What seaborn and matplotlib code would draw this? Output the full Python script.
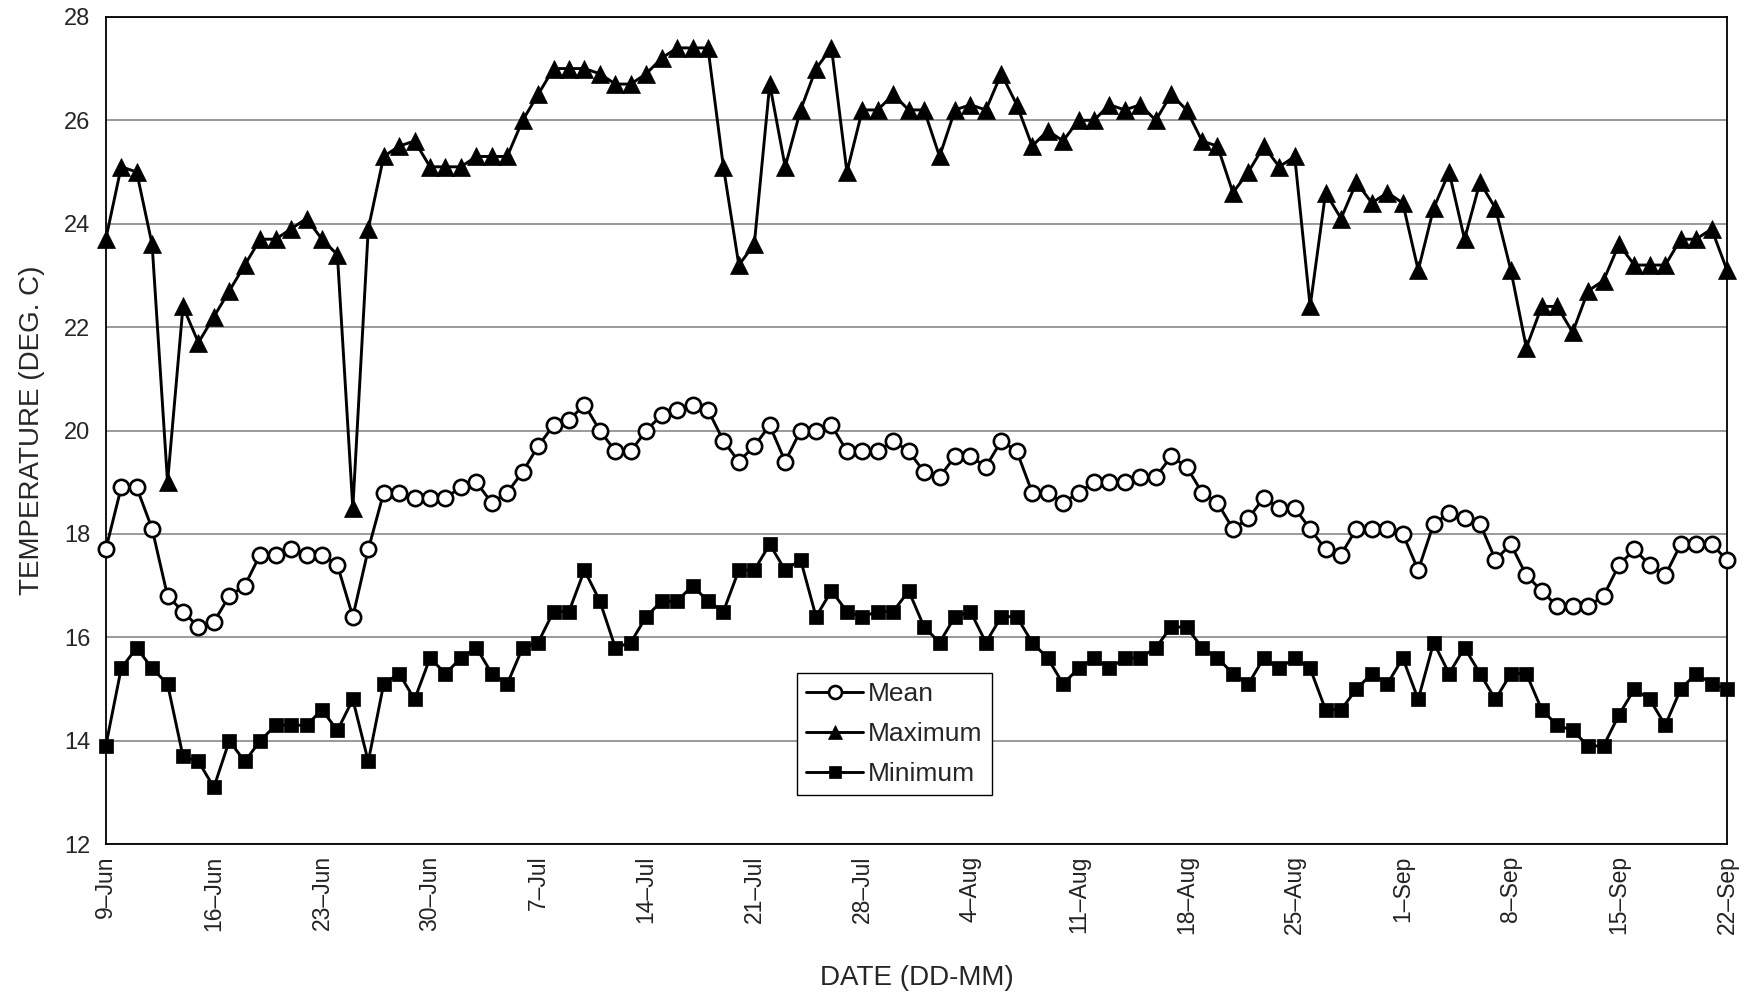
import numpy as np
import pandas as pd
import matplotlib
matplotlib.use("Agg")
import matplotlib.pyplot as plt
import seaborn as sns

# ---------------- data (daily values, 9-Jun .. 22-Sep) ----------------
start_date = "2000-06-09"
n_days = 106

mean_temp = [
    17.7, 18.9, 18.9, 18.1, 16.8, 16.5, 16.2, 16.3, 16.8, 17.0,
    17.6, 17.6, 17.7, 17.6, 17.6, 17.4, 16.4, 17.7, 18.8, 18.8,
    18.7, 18.7, 18.7, 18.9, 19.0, 18.6, 18.8, 19.2, 19.7, 20.1,
    20.2, 20.5, 20.0, 19.6, 19.6, 20.0, 20.3, 20.4, 20.5, 20.4,
    19.8, 19.4, 19.7, 20.1, 19.4, 20.0, 20.0, 20.1, 19.6, 19.6,
    19.6, 19.8, 19.6, 19.2, 19.1, 19.5, 19.5, 19.3, 19.8, 19.6,
    18.8, 18.8, 18.6, 18.8, 19.0, 19.0, 19.0, 19.1, 19.1, 19.5,
    19.3, 18.8, 18.6, 18.1, 18.3, 18.7, 18.5, 18.5, 18.1, 17.7,
    17.6, 18.1, 18.1, 18.1, 18.0, 17.3, 18.2, 18.4, 18.3, 18.2,
    17.5, 17.8, 17.2, 16.9, 16.6, 16.6, 16.6, 16.8, 17.4, 17.7,
    17.4, 17.2, 17.8, 17.8, 17.8, 17.5,
]

max_temp = [
    23.7, 25.1, 25.0, 23.6, 19.0, 22.4, 21.7, 22.2, 22.7, 23.2,
    23.7, 23.7, 23.9, 24.1, 23.7, 23.4, 18.5, 23.9, 25.3, 25.5,
    25.6, 25.1, 25.1, 25.1, 25.3, 25.3, 25.3, 26.0, 26.5, 27.0,
    27.0, 27.0, 26.9, 26.7, 26.7, 26.9, 27.2, 27.4, 27.4, 27.4,
    25.1, 23.2, 23.6, 26.7, 25.1, 26.2, 27.0, 27.4, 25.0, 26.2,
    26.2, 26.5, 26.2, 26.2, 25.3, 26.2, 26.3, 26.2, 26.9, 26.3,
    25.5, 25.8, 25.6, 26.0, 26.0, 26.3, 26.2, 26.3, 26.0, 26.5,
    26.2, 25.6, 25.5, 24.6, 25.0, 25.5, 25.1, 25.3, 22.4, 24.6,
    24.1, 24.8, 24.4, 24.6, 24.4, 23.1, 24.3, 25.0, 23.7, 24.8,
    24.3, 23.1, 21.6, 22.4, 22.4, 21.9, 22.7, 22.9, 23.6, 23.2,
    23.2, 23.2, 23.7, 23.7, 23.9, 23.1,
]

min_temp = [
    13.9, 15.4, 15.8, 15.4, 15.1, 13.7, 13.6, 13.1, 14.0, 13.6,
    14.0, 14.3, 14.3, 14.3, 14.6, 14.2, 14.8, 13.6, 15.1, 15.3,
    14.8, 15.6, 15.3, 15.6, 15.8, 15.3, 15.1, 15.8, 15.9, 16.5,
    16.5, 17.3, 16.7, 15.8, 15.9, 16.4, 16.7, 16.7, 17.0, 16.7,
    16.5, 17.3, 17.3, 17.8, 17.3, 17.5, 16.4, 16.9, 16.5, 16.4,
    16.5, 16.5, 16.9, 16.2, 15.9, 16.4, 16.5, 15.9, 16.4, 16.4,
    15.9, 15.6, 15.1, 15.4, 15.6, 15.4, 15.6, 15.6, 15.8, 16.2,
    16.2, 15.8, 15.6, 15.3, 15.1, 15.6, 15.4, 15.6, 15.4, 14.6,
    14.6, 15.0, 15.3, 15.1, 15.6, 14.8, 15.9, 15.3, 15.8, 15.3,
    14.8, 15.3, 15.3, 14.6, 14.3, 14.2, 13.9, 13.9, 14.5, 15.0,
    14.8, 14.3, 15.0, 15.3, 15.1, 15.0,
]

x_tick_labels = ["9\u2013Jun", "16\u2013Jun", "23\u2013Jun", "30\u2013Jun",
                 "7\u2013Jul", "14\u2013Jul", "21\u2013Jul", "28\u2013Jul",
                 "4\u2013Aug", "11\u2013Aug", "18\u2013Aug", "25\u2013Aug",
                 "1\u2013Sep", "8\u2013Sep", "15\u2013Sep", "22\u2013Sep"]
y_ticks = [12, 14, 16, 18, 20, 22, 24, 26, 28]

# ---------------- plotting ----------------
sns.set_theme(style="white")
plt.rcParams["font.family"] = ["Liberation Sans", "DejaVu Sans"]

dates = pd.date_range(start_date, periods=n_days, freq="D")
day = np.arange(n_days)
df = pd.DataFrame({"day": day, "date": dates, "Mean": mean_temp,
                   "Maximum": max_temp, "Minimum": min_temp})

fig, ax = plt.subplots(figsize=(17.63, 9.92), dpi=100)
fig.subplots_adjust(left=0.060, right=0.9796, top=0.983, bottom=0.149)

lw = 2.1
sns.lineplot(data=df, x="day", y="Mean", ax=ax, color="black", linewidth=lw,
             marker="o", markersize=11, markerfacecolor="white",
             markeredgecolor="black", markeredgewidth=1.9,
             label="Mean", clip_on=False, zorder=4)
sns.lineplot(data=df, x="day", y="Maximum", ax=ax, color="black", linewidth=lw,
             marker="^", markersize=12.5, markerfacecolor="black",
             markeredgecolor="black", markeredgewidth=0.5,
             label="Maximum", clip_on=False, zorder=4)
sns.lineplot(data=df, x="day", y="Minimum", ax=ax, color="black", linewidth=lw,
             marker="s", markersize=10.5, markerfacecolor="black",
             markeredgecolor="black", markeredgewidth=0.5,
             label="Minimum", clip_on=False, zorder=4)

ax.set_xlim(0, n_days - 1)
ax.set_ylim(y_ticks[0], y_ticks[-1])
ax.set_yticks(y_ticks)
ax.set_yticklabels([str(v) for v in y_ticks], fontsize=17)

ax.set_xticks(np.arange(0, n_days, 7))
ax.set_xticklabels(x_tick_labels, rotation=90, fontsize=16.5, color="#222222")
ax.set_xticks(np.arange(0, n_days - 1, 2), minor=True)
ax.tick_params(axis="x", which="major", length=0, pad=8)
ax.tick_params(axis="x", which="minor", length=9, width=1.0,
               direction="inout", color="#444444")
ax.tick_params(axis="y", which="major", length=7, width=1.0,
               direction="out", color="#666666", pad=4)

ax.yaxis.grid(True, color="#7f7f7f", linewidth=1.1)
ax.xaxis.grid(False)
ax.set_axisbelow(True)
for s in ax.spines.values():
    s.set_color("black")
    s.set_linewidth(1.3)

ax.set_xlabel("DATE (DD-MM)", fontsize=20, labelpad=22)
ax.set_ylabel("TEMPERATURE (DEG. C)", fontsize=20, labelpad=14)

leg = ax.legend(loc="lower left", bbox_to_anchor=(0.4264, 0.0593),
                frameon=True, fancybox=False, edgecolor="black",
                framealpha=1, fontsize=19, handlelength=2.15,
                borderpad=0.35, labelspacing=0.6, handletextpad=0.2,
                borderaxespad=0, markerscale=0.85)
leg.get_frame().set_linewidth(1.0)

fig.savefig("out.png", dpi=100, facecolor="white")
